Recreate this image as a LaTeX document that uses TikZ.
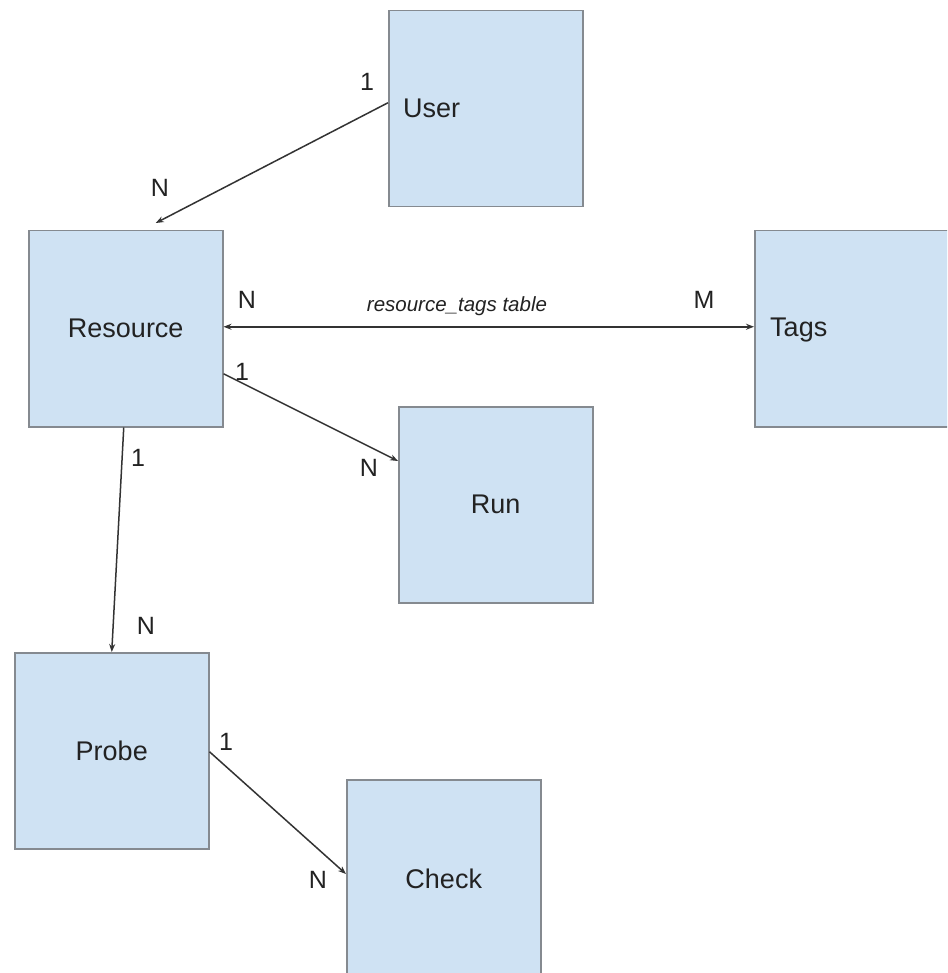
\documentclass[tikz,border=0pt]{standalone}
\usepackage{fontspec}
\setmainfont{Liberation Sans}
\usetikzlibrary{arrows.meta}
\definecolor{boxfill}{HTML}{CFE2F3}
\definecolor{boxline}{HTML}{858A90}
\definecolor{linkcol}{HTML}{333333}
\definecolor{inkcol}{HTML}{222222}
\begin{document}
\begin{tikzpicture}[x=1pt,y=-1pt,
  entity/.style={draw=boxline, fill=boxfill, line width=1.5pt, anchor=north west,
    minimum width=194pt, minimum height=196pt, inner sep=0pt},
  ename/.style={text=inkcol, font=\fontsize{27}{30}\selectfont, inner sep=0pt},
  card/.style={text=inkcol, font=\fontsize{25}{28}\selectfont, inner sep=0pt},
  link/.style={draw=linkcol, line width=1.5pt, -{Stealth[length=8pt,width=6pt]}},
  dlink/.style={draw=linkcol, line width=1.5pt, {Stealth[length=8pt,width=6pt]}-{Stealth[length=8pt,width=6pt]}}]
\useasboundingbox (0,0) rectangle (947,973);
\clip (0,0) rectangle (947,973);
\fill[white] (0,0) rectangle (947,973);

% entity boxes
\node[entity] (user) at (388,10) {};
\node[entity] (res)  at (28,230) {};
\node[entity] (tags) at (754,230) {};
\node[entity] (run)  at (398,406) {};
\node[entity] (probe) at (14,652) {};
\node[entity] (check) at (346,779) {};

% entity names
\node[ename, anchor=west] (tuser) at (403,108) {User};
\node[ename] (tres) at (res.center) {Resource};
\node[ename, anchor=west] (ttags) at (770,330) {Tags};
\node[ename] (trun) at (run.center) {Run};
\node[ename] (tprobe) at (probe.center) {Probe};
\node[ename] (tcheck) at ([yshift=-1pt]check.center) {Check};

% relationships
\coordinate (uout) at ([yshift=6pt]user.west);
\coordinate (rin)  at ([xshift=30pt,yshift=7pt]res.north);
\draw[link] (uout) -- (rin);

\coordinate (rtl) at ([yshift=2pt]res.east);
\coordinate (rtr) at ([yshift=2pt]tags.west);
\draw[dlink] (rtl) -- (rtr);

\coordinate (rrun) at ([yshift=-45pt]res.east);
\coordinate (runin) at ([yshift=-55pt]run.north west);
\draw[link] (rrun) -- (runin);

\coordinate (rdown) at ([xshift=-2pt]res.south);
\coordinate (pin) at (probe.north);
\draw[link] (rdown) -- (pin);

\coordinate (pout) at ([yshift=-1pt]probe.east);
\coordinate (cin) at ([yshift=-95pt]check.north west);
\draw[link] (pout) -- (cin);

% cardinalities
\node[card] (c1) at (367,82) {1};
\node[card] (c2) at (160,188) {N};
\node[card] (c3) at (247,300) {N};
\node[card] (c4) at (704,300) {M};
\node[text=inkcol, font=\fontsize{20.5}{24}\selectfont\itshape, inner sep=0pt] (c5) at (457,306) {resource\_tags table};
\node[card] (c6) at (242,372) {1};
\node[card] (c7) at (369,468) {N};
\node[card] (c8) at (138,458) {1};
\node[card] (c9) at (146,626) {N};
\node[card] (c10) at (226,742) {1};
\node[card] (c11) at (318,880) {N};
\end{tikzpicture}
\end{document}
